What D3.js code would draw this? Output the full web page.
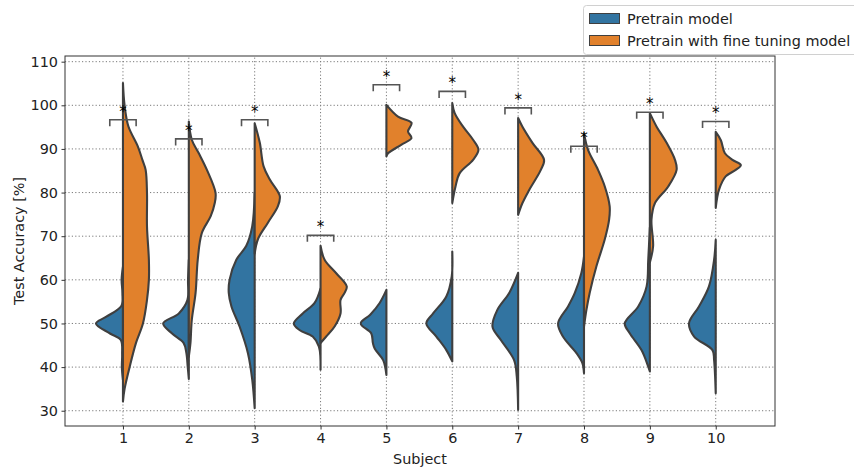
<!DOCTYPE html>
<html>
<head>
<meta charset="utf-8">
<script src="https://cdn.jsdelivr.net/npm/d3@7"></script>
<style>
	body { margin: 0; background: #fff; }
	text { font-family: "DejaVu Sans", sans-serif; }
</style>
</head>
<body>
<div id="chart"></div>
<script>

	/* --------------------- Data ---------------------- */

	let subjects = [1, 2, 3, 4, 5, 6, 7, 8, 9, 10];
	let seriesNames = ['Pretrain model', 'Pretrain with fine tuning model'];
	let yTicks = [30, 40, 50, 60, 70, 80, 90, 100, 110];

	// density profiles: [accuracy, relative width]
	let pretrain = [
		[[63,0],[60,0.05],[57,0.02],[54,0.06],[51.5,0.63],[50,1.0],[47.7,0.48],[46.2,0.08],[43,0.03],[40,0.04],[37,0]],
		[[64.6,0],[60,0.03],[55.4,0.05],[52.3,0.37],[50,0.95],[47.7,0.62],[45.5,0.19],[43.2,0.09],[40,0.04],[37.3,0]],
		[[80,0],[72.3,0.09],[67.8,0.31],[64.6,0.68],[60,0.93],[57,0.96],[53.9,0.86],[49.3,0.56],[43.2,0.25],[37.1,0.09],[30.6,0]],
		[[58,0],[54.7,0.22],[52.3,0.66],[50,0.99],[48.5,0.78],[47,0.29],[44.7,0.06],[39.4,0]],
		[[57.7,0],[54.7,0.25],[52,0.6],[50,0.95],[47.7,0.56],[45.5,0.5],[44.2,0.43],[41.6,0.12],[38.2,0]],
		[[66.5,0],[60.8,0.02],[56.2,0.22],[52.3,0.71],[50,0.96],[47,0.59],[43.9,0.22],[41.3,0]],
		[[61.6,0],[57,0.33],[53.1,0.77],[49.3,0.95],[46.2,0.64],[41.6,0.15],[37.8,0.05],[30.2,0]],
		[[65.3,0],[61.5,0.1],[57,0.34],[53.9,0.59],[50,0.96],[47,0.78],[43.2,0.28],[40.9,0.06],[38.6,0]],
		[[72,0],[64.6,0.06],[58.5,0.12],[53.9,0.43],[50,0.93],[47.7,0.74],[43.9,0.31],[40.1,0.06],[39,0]],
		[[69.2,0],[64.6,0.06],[58.5,0.25],[53.9,0.62],[50,0.99],[47,0.8],[43.9,0.12],[41.6,0.06],[34,0]]
	];

	let finetune = [
		[[105.1,0],[100,0.06],[95.2,0.2],[90.6,0.55],[87.5,0.72],[85.2,0.84],[79.9,0.89],[72.3,0.89],[64.6,0.96],[60,0.96],[55.4,0.89],[50,0.74],[45.5,0.48],[40.1,0.25],[35,0.06],[32.1,0]],
		[[96.3,0],[92.1,0.11],[89,0.37],[85.2,0.67],[79.9,0.99],[77.6,0.96],[74.6,0.81],[70.7,0.48],[64.6,0.33],[57,0.25],[50.8,0.11],[45.5,0.06],[42.4,0]],
		[[95.9,0],[91.4,0.19],[86,0.33],[83,0.56],[79.2,0.93],[76.9,0.86],[73.1,0.49],[69.3,0.12],[66,0]],
		[[67.8,0],[64.6,0.15],[61.5,0.58],[58.5,0.97],[57,0.89],[55.4,0.74],[52.3,0.74],[49.3,0.52],[47,0.21],[45.5,0]],
		[[100.1,0],[97.4,0.43],[96,0.93],[94,0.8],[92.5,0.93],[91,0.56],[89,0.06],[88.3,0]],
		[[100.5,0],[98.2,0.09],[95.1,0.4],[92.1,0.77],[89.8,0.97],[87.5,0.77],[84.4,0.27],[81.4,0.12],[77.6,0]],
		[[97.1,0],[95.1,0.16],[91.4,0.53],[87.5,0.96],[85.2,0.84],[80.6,0.41],[77.6,0.16],[74.9,0]],
		[[93.6,0],[89.8,0.15],[85.2,0.52],[81.4,0.77],[76.9,0.95],[73.8,0.93],[69.3,0.77],[63.1,0.46],[57,0.21],[53.1,0.09],[49.3,0]],
		[[98.2,0],[95.1,0.25],[91.4,0.62],[87.5,0.93],[85.2,0.99],[81.4,0.68],[77.6,0.19],[73.8,0.06],[67.7,0.12],[64,0]],
		[[93.9,0],[92,0.19],[89,0.34],[87.5,0.62],[86.3,0.93],[85.2,0.74],[83.7,0.37],[80.6,0.12],[76.5,0]]
	];

	// height of the significance bracket over each subject
	let bracketLevels = [96.7, 92.3, 96.7, 70.2, 104.7, 103.2, 99.4, 90.6, 98.4, 96.3];

	/* --------------------- Drawing ---------------------- */

	let colors = ['#3274a1', '#e1812c'];
	let outline = '#3f3f3f';
	let fontSize = '14.4px';

	let width = 854;
	let height = 468;
	let margin = {left: 65, right: 79, top: 56, bottom: 42};

	let svg = d3.select('#chart')
		.append('svg')
		.attr('width', width)
		.attr('height', height);

	let x = d3.scaleLinear()
		.domain([0.12, 10.9])
		.range([margin.left, width - margin.right]);

	let y = d3.scaleLinear()
		.domain([26.5, 111.3])
		.range([height - margin.bottom, margin.top]);

	// relative density -> half width in subject units
	let widthScale = d3.scaleLinear()
		.domain([0, 1])
		.range([0, 0.41]);

	// grid
	let grid = svg.append('g');
	grid.selectAll('.hgrid')
		.data(yTicks)
		.enter().append('line')
			.attr('x1', x.range()[0]).attr('x2', x.range()[1])
			.attr('y1', d => y(d)).attr('y2', d => y(d))
			.attr('stroke', '#7a7a7a')
			.attr('stroke-width', 1)
			.attr('stroke-dasharray', '1.2,2.2');
	grid.selectAll('.vgrid')
		.data(subjects)
		.enter().append('line')
			.attr('x1', d => x(d)).attr('x2', d => x(d))
			.attr('y1', y.range()[0]).attr('y2', y.range()[1])
			.attr('stroke', '#7a7a7a')
			.attr('stroke-width', 1)
			.attr('stroke-dasharray', '1.2,2.2');

	// one half of a split violin
	function halfViolin(subject, side) {
		return d3.area()
			.curve(d3.curveCatmullRom)
			.y(d => y(d[0]))
			.x0(x(subject))
			.x1(d => x(subject + side * widthScale(d[1])));
	}

	let violins = svg.append('g');
	subjects.forEach(function(s, i) {
		violins.append('path')
			.datum(pretrain[i])
			.attr('d', halfViolin(s, -1))
			.attr('fill', colors[0])
			.attr('stroke', outline)
			.attr('stroke-width', 2.1)
			.attr('stroke-linejoin', 'round');
		violins.append('path')
			.datum(finetune[i])
			.attr('d', halfViolin(s, 1))
			.attr('fill', colors[1])
			.attr('stroke', outline)
			.attr('stroke-width', 2.1)
			.attr('stroke-linejoin', 'round');
	});

	// significance brackets and stars
	let marks = svg.append('g');
	subjects.forEach(function(s, i) {
		let by = y(bracketLevels[i]);
		let tick = y(bracketLevels[i] - 1.5) - by;
		marks.append('path')
			.attr('d', 'M' + x(s - 0.2) + ',' + (by + tick) + 'V' + by + 'H' + x(s + 0.2) + 'V' + (by + tick))
			.attr('fill', 'none')
			.attr('stroke', '#555')
			.attr('stroke-width', 1.6);
		marks.append('text')
			.attr('x', x(s))
			.attr('y', by - 3)
			.attr('text-anchor', 'middle')
			.style('font-size', '15px')
			.attr('fill', '#000')
			.text('*');
	});

	// axes
	let xAxis = d3.axisBottom(x)
		.tickValues(subjects)
		.tickSize(3.5)
		.tickPadding(3.5);
	let yAxis = d3.axisLeft(y)
		.tickValues(yTicks)
		.tickSize(3.5)
		.tickPadding(3.5);

	let gx = svg.append('g')
		.attr('transform', 'translate(0,' + (height - margin.bottom) + ')')
		.call(xAxis);
	let gy = svg.append('g')
		.attr('transform', 'translate(' + margin.left + ',0)')
		.call(yAxis);

	[gx, gy].forEach(function(g) {
		g.select('.domain').remove();
		g.selectAll('.tick line').attr('stroke', '#333');
		g.selectAll('.tick text')
			.attr('fill', '#222')
			.style('font-size', fontSize)
			.style('font-family', '"DejaVu Sans", sans-serif');
	});

	// frame
	svg.append('rect')
		.attr('x', x.range()[0])
		.attr('y', y.range()[1])
		.attr('width', x.range()[1] - x.range()[0])
		.attr('height', y.range()[0] - y.range()[1])
		.attr('fill', 'none')
		.attr('stroke', '#333')
		.attr('stroke-width', 1);

	svg.append('text')
		.attr('x', (x.range()[0] + x.range()[1]) / 2)
		.attr('y', 464)
		.attr('text-anchor', 'middle')
		.style('font-size', fontSize)
		.attr('fill', '#222')
		.text('Subject');

	svg.append('text')
		.attr('transform', 'translate(24,' + ((y.range()[0] + y.range()[1]) / 2) + ') rotate(-90)')
		.attr('text-anchor', 'middle')
		.style('font-size', fontSize)
		.attr('fill', '#222')
		.text('Test Accuracy [%]');

	// legend
	let legend = svg.append('g');
	legend.append('rect')
		.attr('x', 583.5).attr('y', 5.5)
		.attr('width', 280).attr('height', 49)
		.attr('rx', 3)
		.attr('fill', '#fff')
		.attr('stroke', '#d0d0d0');
	seriesNames.forEach(function(name, i) {
		legend.append('rect')
			.attr('x', 589.5).attr('y', 13.5 + i * 22)
			.attr('width', 30).attr('height', 10)
			.attr('fill', colors[i])
			.attr('stroke', outline)
			.attr('stroke-width', 1);
		legend.append('text')
			.attr('x', 627)
			.attr('y', 23.5 + i * 22)
			.style('font-size', fontSize)
			.attr('fill', '#222')
			.text(name);
	});

</script>
</body>
</html>
